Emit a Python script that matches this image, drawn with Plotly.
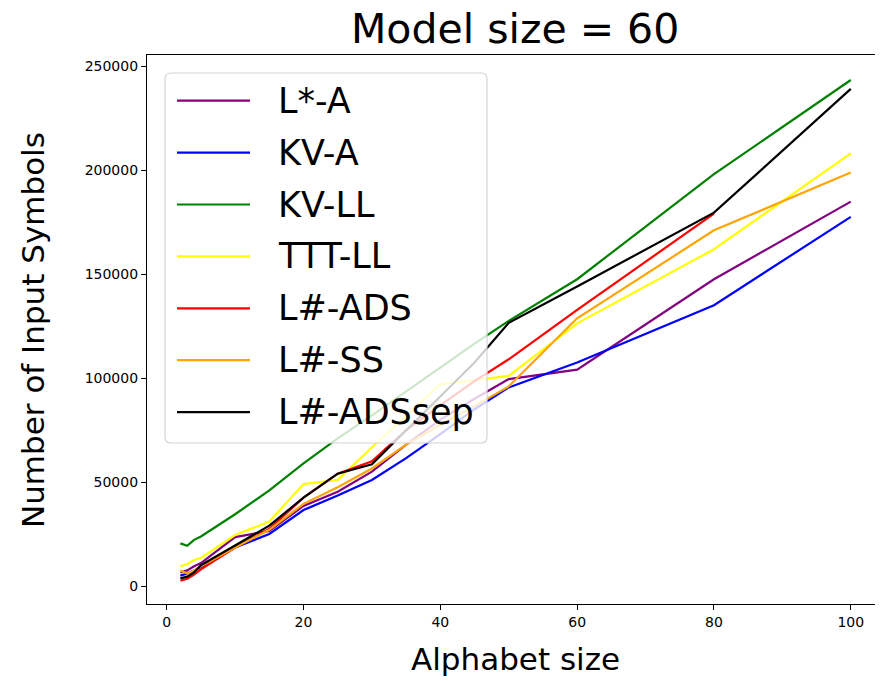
import plotly.graph_objects as go

# ---------------- data ----------------
alphabet_size = [2, 3, 4, 5, 10, 15, 20, 25, 30, 35, 40, 45, 50, 60, 80, 100]

series_names = ["L*-A", "KV-A", "KV-LL", "TTT-LL", "L#-ADS", "L#-SS", "L#-ADSsep"]

lstar_a = [6500, 7500, 9500, 11000, 23500, 26500, 38500, 45300, 55000, 68000, 80000, 90000, 99500, 104000, 147500, 184800]
kv_a = [5000, 6000, 7500, 9000, 18500, 25000, 36500, 43500, 51000, 61500, 73000, 85000, 95500, 107500, 135000, 177500]
kv_ll = [20500, 19300, 22200, 23800, 34500, 46000, 59000, 71000, 82000, 93500, 105000, 116500, 127500, 147500, 198000, 243300]
ttt_ll = [9500, 10500, 12500, 13500, 24500, 31000, 49000, 51000, 66700, 82000, 97000, 99000, 101000, 126300, 161900, 208000]
lsharp_ads = [2500, 3500, 5500, 8000, 18500, 27500, 42500, 54000, 60000, 75000, 87000, 98500, 109000, 132800, 179000, None]
lsharp_ss = [7500, 6000, 7500, 9500, 18500, 27000, 39500, 47500, 56500, 68000, 77500, 86500, 96000, 128700, 171000, 198800]
lsharp_adssep = [3700, 4500, 6500, 10000, 19500, 29000, 42500, 54000, 58500, 75000, 91000, 107500, 126500, 144000, 179500, 239000]

series_values = [lstar_a, kv_a, kv_ll, ttt_ll, lsharp_ads, lsharp_ss, lsharp_adssep]
series_colors = ["#800080", "#0000ff", "#008000", "#ffff00", "#ff0000", "#ffa500", "#000000"]

x_ticks = [0, 20, 40, 60, 80, 100]
y_ticks = [0, 50000, 100000, 150000, 200000, 250000]

title_text = "Model size = 60"
x_title = "Alphabet size"
y_title = "Number of Input Symbols"

# ---------------- layout geometry (page pixels) ----------------
OFF = 8                     # default body margin of the html page
W, H = 883 - OFF, 683 - OFF  # figure size
L, R, T, B = 147, 883, 55, 604   # plot area edges in page pixels
FONT = "DejaVu Sans, Liberation Sans, Arial, sans-serif"


def px_x(p):
    return (p - L) / (R - L)


def px_y(p):
    return (B - p) / (B - T)


fig = go.Figure()
for name, vals, col in zip(series_names, series_values, series_colors):
    fig.add_trace(go.Scatter(
        x=alphabet_size, y=vals, mode="lines", name=name,
        line=dict(color=col, width=2.2), showlegend=False, connectgaps=False,
    ))

fig.update_layout(
    width=W, height=H,
    margin=dict(l=L - OFF, r=(W + OFF) - R, t=T - OFF, b=(H + OFF) - B, pad=0),
    paper_bgcolor="white", plot_bgcolor="white",
    font=dict(family=FONT, color="black"),
    showlegend=False,
)

fig.update_xaxes(
    range=[-2.88, 104.71], tickvals=x_ticks, ticktext=[str(v) for v in x_ticks],
    showgrid=False, zeroline=False,
    showline=True, linecolor="black", linewidth=1.2, mirror=True,
    ticks="outside", ticklen=5, tickwidth=1.2, tickcolor="black",
    tickfont=dict(size=14, family=FONT, color="black"),
)
fig.update_yaxes(
    range=[-8654, 255305], tickvals=y_ticks, ticktext=[str(v) for v in y_ticks],
    showgrid=False, zeroline=False,
    showline=True, linecolor="black", linewidth=1.2, mirror=False,
    ticks="outside", ticklen=5, tickwidth=1.2, tickcolor="black",
    tickfont=dict(size=14, family=FONT, color="black"),
)

annotations = [
    dict(text=title_text, xref="paper", yref="paper", x=0.5, y=px_y(29),
         xanchor="center", yanchor="middle", showarrow=False,
         font=dict(size=41, family=FONT, color="black")),
    dict(text=x_title, xref="paper", yref="paper", x=0.5, y=px_y(659),
         xanchor="center", yanchor="middle", showarrow=False,
         font=dict(size=31, family=FONT, color="black")),
    dict(text=y_title, xref="paper", yref="paper", x=px_x(33), y=px_y(330),
         xanchor="center", yanchor="middle", showarrow=False, textangle=-90,
         font=dict(size=31, family=FONT, color="black")),
]

# ---------------- manual legend (matplotlib style) ----------------
lx0, lx1, ly0, ly1 = 165, 487, 73, 443
rad = 6
X0, X1 = px_x(lx0), px_x(lx1)
Y0, Y1 = px_y(ly1), px_y(ly0)
rx = rad / (R - L)
ry = rad / (B - T)
path = (f"M {X0+rx},{Y0} L {X1-rx},{Y0} Q {X1},{Y0} {X1},{Y0+ry} "
        f"L {X1},{Y1-ry} Q {X1},{Y1} {X1-rx},{Y1} "
        f"L {X0+rx},{Y1} Q {X0},{Y1} {X0},{Y1-ry} "
        f"L {X0},{Y0+ry} Q {X0},{Y0} {X0+rx},{Y0} Z")
shapes = [dict(type="path", path=path, xref="paper", yref="paper",
               fillcolor="rgba(255,255,255,0.8)", line=dict(color="#d4d4d4", width=1.2),
               layer="above")]

first_y, step = 100.7, 51.9
for i, (name, col) in enumerate(zip(series_names, series_colors)):
    yy = first_y + i * step
    shapes.append(dict(type="line", xref="paper", yref="paper",
                       x0=px_x(177), x1=px_x(250), y0=px_y(yy), y1=px_y(yy),
                       line=dict(color=col, width=2.2), layer="above"))
    annotations.append(dict(text=name, xref="paper", yref="paper",
                            x=px_x(276), y=px_y(yy), xanchor="left", yanchor="middle",
                            showarrow=False, font=dict(size=35, family=FONT, color="black")))

fig.update_layout(shapes=shapes, annotations=annotations)

fig.write_html("out.html")
